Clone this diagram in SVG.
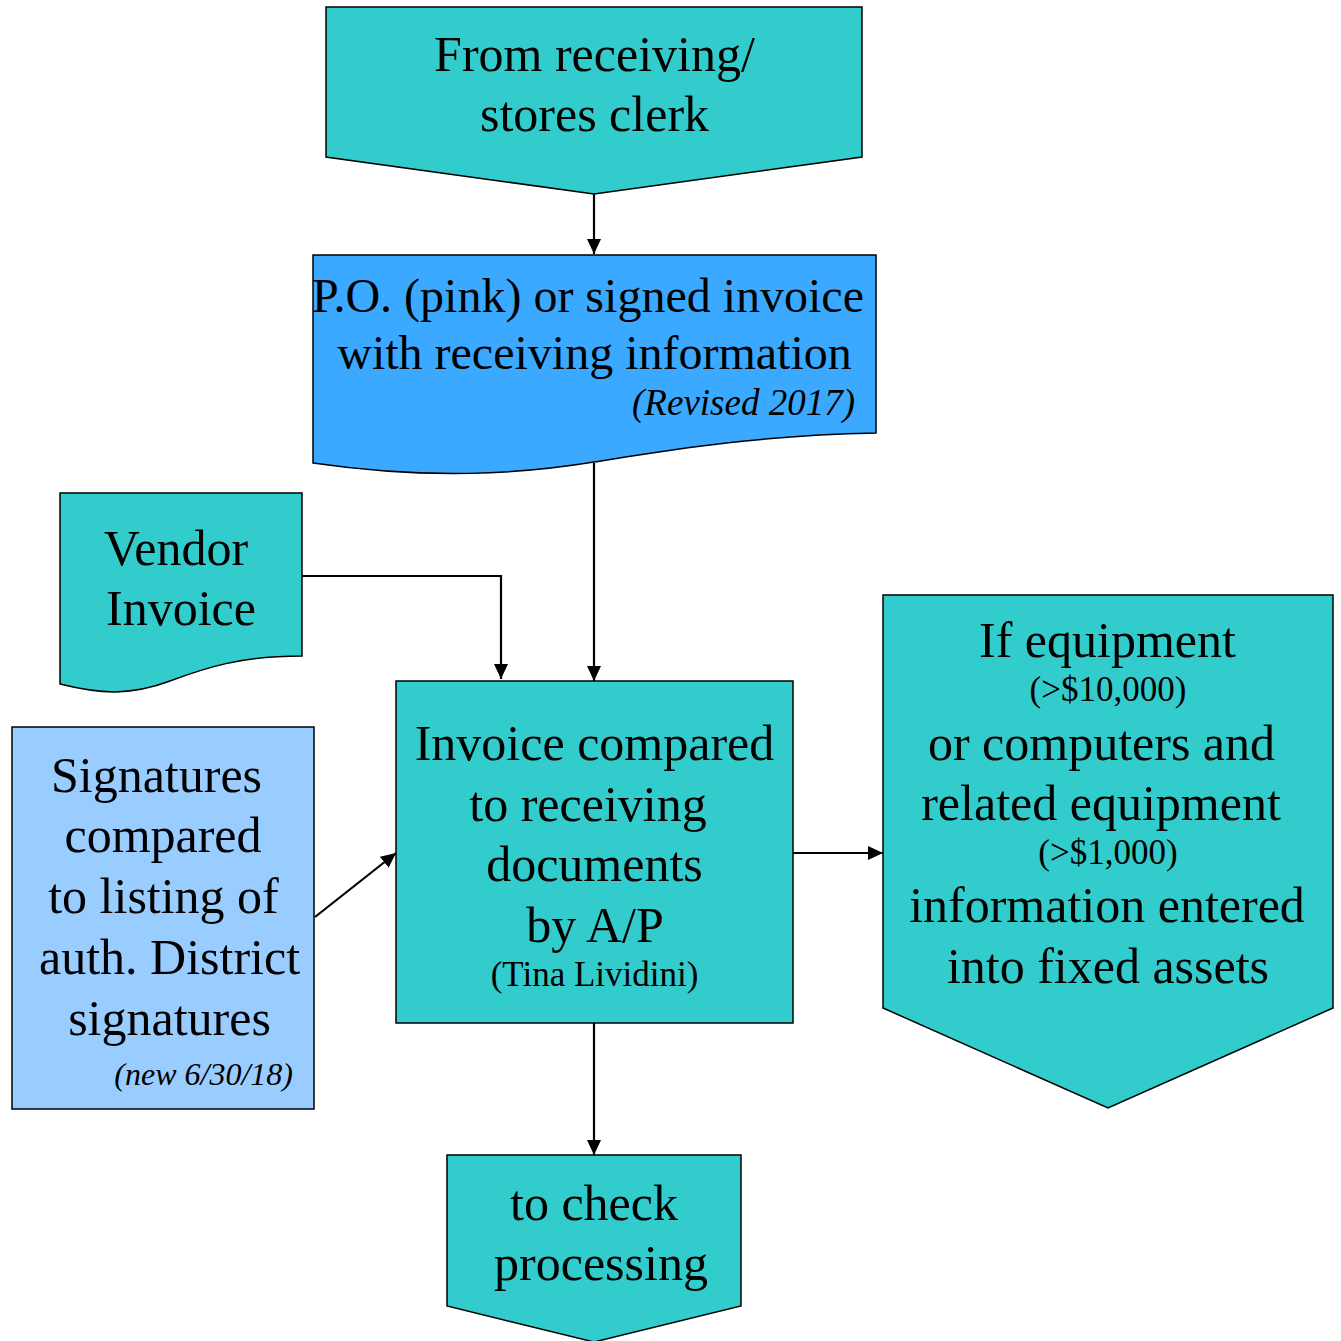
<svg xmlns="http://www.w3.org/2000/svg" width="1341" height="1341" viewBox="0 0 1341 1341">
<style>
.shape{stroke:#000;stroke-width:1.5}
.teal{fill:#33CCCC}
.blue{fill:#3AA9FF}
.lblue{fill:#99CCFF}
text{font-family:"Liberation Serif","Times New Roman",serif;fill:#000}
.big{font-size:50px;text-anchor:middle}
.mid{font-size:48px;text-anchor:middle}
.small{font-size:35px;text-anchor:middle}
.note{font-size:37px;font-style:italic;text-anchor:end}
.conn{fill:none;stroke:#000;stroke-width:2.2;marker-end:url(#arr)}
</style>
<defs>
<marker id="arr" viewBox="0 0 15 14" refX="15" refY="7" markerWidth="15" markerHeight="14" markerUnits="userSpaceOnUse" orient="auto">
<path d="M0,0 L15,7 L0,14 z" fill="#000"/>
</marker>
</defs>
<rect width="1341" height="1341" fill="#fff"/>
<g id="connectors">
<path class="conn" d="M594,194 V254"/>
<path class="conn" d="M594,463 V681"/>
<path class="conn" d="M298,576 H501 V679"/>
<path class="conn" d="M315,917 L396,853"/>
<path class="conn" d="M793,853 H883"/>
<path class="conn" d="M594,1023 V1155"/>
</g>
<g id="node-from-receiving">
<path class="shape teal" d="M326,7 H862 V157 L594,194 L326,157 Z"/>
<text class="big" x="594.5" y="71">From receiving/</text>
<text class="big" x="594.5" y="131">stores clerk</text>
</g>
<g id="node-po">
<path class="shape blue" d="M313,255 H876 V433 C760,435 670,450 594,462 C520,474 430,480 313,463 Z"/>
<text class="mid" x="588" y="312">P.O. (pink) or signed invoice</text>
<text class="mid" x="594.5" y="369">with receiving information</text>
<text class="note" x="855" y="415">(Revised 2017)</text>
</g>
<g id="node-vendor">
<path class="shape teal" d="M60,493 H302 V656 C240,656 205,668 170,681 C130,696 100,694 60,684 Z"/>
<text class="big" x="176" y="565">Vendor</text>
<text class="big" x="181" y="625">Invoice</text>
</g>
<g id="node-signatures">
<rect class="shape lblue" x="12" y="727" width="302" height="382"/>
<text class="big" x="156.5" y="792">Signatures</text>
<text class="big" x="163" y="852">compared</text>
<text class="big" x="163.5" y="913">to listing of</text>
<text class="big" x="169.5" y="974">auth. District</text>
<text class="big" x="169.5" y="1035">signatures</text>
<text class="note" x="293" y="1085" style="font-size:32px">(new 6/30/18)</text>
</g>
<g id="node-invoice-compared">
<rect class="shape teal" x="396" y="681" width="397" height="342"/>
<text class="big" x="594.5" y="760">Invoice compared</text>
<text class="big" x="588" y="821">to receiving</text>
<text class="big" x="594.5" y="881">documents</text>
<text class="big" x="595" y="942">by A/P</text>
<text class="small" x="594.5" y="986">(Tina Lividini)</text>
</g>
<g id="node-fixed-assets">
<path class="shape teal" d="M883,595 H1333 V1008 L1108,1108 L883,1008 Z"/>
<text class="big" x="1107.5" y="657">If equipment</text>
<text class="small" x="1108" y="701">(&gt;$10,000)</text>
<text class="big" x="1101.5" y="760">or computers and</text>
<text class="big" x="1101" y="820">related equipment</text>
<text class="small" x="1108" y="864">(&gt;$1,000)</text>
<text class="big" x="1107" y="922">information entered</text>
<text class="big" x="1108" y="983">into fixed assets</text>
</g>
<g id="node-check-processing">
<path class="shape teal" d="M447,1155 H741 V1306 L594,1342 L447,1306 Z"/>
<text class="big" x="594" y="1220">to check</text>
<text class="big" x="601" y="1280">processing</text>
</g>
</svg>
